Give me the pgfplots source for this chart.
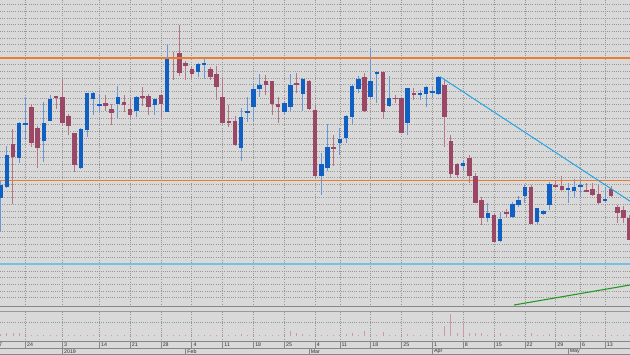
\documentclass[border=0pt]{standalone}
\usepackage{pgfplots}
\pgfplotsset{compat=1.18}
\usepackage{pgfplotstable}
\usepackage{fontspec}
\setmainfont{Liberation Sans}
\definecolor{bg}{RGB}{217,217,217}
\definecolor{upbody}{RGB}{16,96,196}
\definecolor{upwick}{RGB}{105,150,212}
\definecolor{dnbody}{RGB}{155,72,102}
\definecolor{dnwick}{RGB}{182,118,132}
\definecolor{orangeln}{RGB}{235,125,50}
\definecolor{hblue}{RGB}{120,192,226}
\definecolor{trendblue}{RGB}{40,165,225}
\definecolor{greenln}{RGB}{40,150,40}
\definecolor{volc}{RGB}{205,150,170}
\definecolor{gridc}{RGB}{150,150,150}
\definecolor{framec}{RGB}{135,135,135}
\definecolor{labc}{RGB}{50,50,50}

% candle values: i = trading-day index, o/h/l/c = chart level (read downward from top of panel)
\pgfplotstableread{
i o h l c
1 198 180 231 185
2 187 146 188 155
4 158 122 163 123
5 124 97 140 123
8 141 102 162 123
9 121 95 121 99
14 168 128 169 129
15 130 93 137 93
16 99 92 115 93
17 106 94 113 104
20 104 86 118 97
23 111 96 117 97
26 105 99 115 99
28 112 45 112 58
33 72 63 77 64
34 65 57 79 63
40 148 108 161 117
41 113 97 122 111
42 107 83 122 89
43 89 74 97 85
47 112 102 115 103
48 107 74 112 85
50 94 78 111 79
53 176 153 195 164
54 168 124 171 147
56 143 128 155 139
57 138 115 143 116
58 117 85 124 86
59 89 76 93 79
61 97 48 98 81
62 73.5 71 103 72.5
64 106 76 107 98
67 123 88 135 88
69 95 90 100 93
70 94 86 107 87
71 92 87 98 91
72 94 76 95 77
76 166 160 171 163
80 218 203 222 213
82 241 212 242 219
84 217 202 218 204
85 205 196 207 200
86 196 185 203 187
88 222 208 225 208
89 214 210 215 211
90 205 182 210 184
93 189 183 203 188
94 191 179 198 187
95 186.5 179 197 185.5
99 200.5 187 202 199.5
}\up

\pgfplotstableread{
i o h l c
3 144 129 204 157
6 107 104 147 143
7 128 126 168 148
10 96.5 96 109 97.5
11 97 79 126 123
12 116 114 135 126
13 133 133 172 165
18 103 95 111 106
19 109 104 125 113
21 102 95 112 105
22 109 99 118 115
24 96 87 106 97.5
25 96 94 115 107
27 95 94 117 104
29 58 52 80 59
30 53 25 76 73
31 63 61 80 66
32 69 67 78 74
35 69 67 80 77
36 74 66 100 87
37 97 77 123 123
38 121.5 105 127 122.5
39 121 116 146 145
44 81 75 95 85
45 81 81 115 104
46 104 97 123 107
49 83.5 73 93 84.5
51 81 80 110 109
52 110 105 178 176
55 147 135 166 148.5
60 77 73 112 111
63 72 71 119 112
65 98 95 103 99
66 98 97 133 133
68 93 88 100 95
73 85 80 147 117
74 141 135 178 174
75 164 163 178 175
77 158 155 183 176
78 176 173 203 203
79 200 197 225 218
81 215 213 243 242
83 212 209 218 213
87 187 185 224 224
91 185 180 188 186
92 186 176 191 190
96 190 183 192 191
97 189 183 196 195
98 194 185 204 203
100 189 186 197 196
101 207 205 223 213
102 210 206 223 218
103 218 215 240 240
}\down

\pgfplotstableread{
i v
1 2
2 3
3 3.5
4 3
5 1
6 1
7 1.5
8 1
9 1
10 0.7
11 1
12 0.7
13 1
14 1
15 1
16 0.7
17 1
18 0.7
19 1
20 1
21 0.7
22 1
23 1
24 0.7
25 1
26 0.7
27 1
28 1.5
29 1
30 1.5
31 1
32 1
33 1
34 0.7
35 1
36 1.5
37 2
38 1
39 1.5
40 2
41 1
42 1.5
43 1
44 1.5
45 1.5
46 1
47 1
48 5
49 2.7
50 1.7
51 1.5
52 1.5
53 1.5
54 1
55 1.5
56 1
57 2
58 3.3
59 1.5
60 5.3
61 1.3
62 1.5
63 3.7
64 1.3
65 1
66 1
67 2
68 1
69 0.7
70 1
71 1
72 1
73 10
74 22
75 3.3
76 12
77 3.3
78 3.3
79 2.7
80 1
81 2
82 3.3
83 1.5
84 1.5
85 1
86 1.5
87 2.7
88 1
89 1.5
90 2
91 1
92 1
93 1
94 0.7
95 1
96 1
97 1
98 1.5
99 2
100 1.5
101 1
102 1
103 1
}\vol

\pgfplotsset{
  chartx/.style={scale only axis, width=630bp, xmin=0.892, xmax=103.05,
    xtick={5,11,17,22,27,32,37,42,47,52,56,61,66,71,76,81,86,91,95,99},
    xticklabels={}, yticklabels={}, major tick length=0pt,
    axis line style={draw=none},
    grid=major, major grid style={draw=gridc, line width=0.7bp, dash pattern=on 0.8bp off 1.4bp}},
  wick/.style={draw=none, mark=none, forget plot, error bars/.cd, y dir=both, y explicit, error mark=none,
    error bar style={line width=1bp, draw=#1}},
  body/.style={draw=none, mark=none, forget plot, error bars/.cd, y dir=both, y explicit, error mark=none,
    error bar style={line width=4.6bp, draw=#1}},
}
\newcommand\daylab[2]{\node[anchor=west, inner sep=0pt, xshift=1.6bp, text=labc, font=\fontsize{5.3}{6}\selectfont] at (axis cs:#1,10) {#2};}
\newcommand\monlab[2]{\node[anchor=west, inner sep=0pt, xshift=1.6bp, text=labc, font=\fontsize{5.3}{6}\selectfont] at (axis cs:#1,3.4) {#2};}

\begin{document}
\begin{tikzpicture}
\useasboundingbox (0bp,0bp) rectangle (630bp,355bp);
\clip (0bp,0bp) rectangle (630bp,355bp);
\fill[bg] (0bp,0bp) rectangle (630bp,355bp);

% main price panel
\begin{axis}[chartx, at={(0bp,49bp)}, anchor=south west, height=306bp,
  ymin=0, ymax=306, y dir=reverse,
  ytick={4.7,11.4,18,24.7,31.3,38,44.7,51.3,64.6,71.3,78,84.6,91.3,97.9,104.6,111.2,117.9,124.6,131.2,137.9,144.5,151.2,157.8,164.5,171.1,177.8,184.4,191.1,197.8,204.4,211.1,217.7,224.4,231,237.7,244.3,251,257.7,264.3,271,277.6,284.3,290.9,297.6},
  clip=true]
\addplot[wick=upwick] table[x=i, y expr={(\thisrow{h}+\thisrow{l})/2}, y error expr={(\thisrow{l}-\thisrow{h})/2}] {\up};
\addplot[wick=dnwick] table[x=i, y expr={(\thisrow{h}+\thisrow{l})/2}, y error expr={(\thisrow{l}-\thisrow{h})/2}] {\down};
\addplot[color=orangeln, line width=1.4bp, mark=none, forget plot] coordinates {(0,180.3) (104,180.3)};
\addplot[color=hblue, line width=1.8bp, mark=none, forget plot] coordinates {(0,264) (104,264)};
\addplot[body=upbody] table[x=i, y expr={(\thisrow{o}+\thisrow{c})/2}, y error expr={max(abs(\thisrow{c}-\thisrow{o})/2,0.6)}] {\up};
\addplot[body=dnbody] table[x=i, y expr={(\thisrow{o}+\thisrow{c})/2}, y error expr={max(abs(\thisrow{c}-\thisrow{o})/2,0.6)}] {\down};
\addplot[color=orangeln, line width=1.6bp, mark=none, forget plot] coordinates {(0,58.2) (104,58.2)};
\addplot[color=trendblue, line width=1bp, mark=none, forget plot] coordinates {(72.25,76.7) (104,205)};
\addplot[color=greenln, line width=1.1bp, mark=none, forget plot] coordinates {(84.25,305) (104,284)};
\end{axis}

% volume panel
\begin{axis}[chartx, at={(0bp,13.3bp)}, anchor=south west, height=30.2bp,
  ymin=-5.7, ymax=24.5, ytick={13.3}, clip=true]
\addplot[ycomb, draw=volc, line width=0.9bp, mark=none] table[x=i, y=v] {\vol};
\end{axis}

% date rows
\begin{axis}[scale only axis, width=630bp, height=13.3bp, at={(0bp,0bp)}, anchor=south west,
  xmin=0.892, xmax=103.05, ymin=0, ymax=13.3, hide axis, clip=false]
\pgfplotsinvokeforeach{0,5,11,17,22,27,32,37,42,47,52,56,61,66,71,76,81,86,91,95,99}{
  \draw[framec, line width=0.7bp] (axis cs:#1,6.7) -- (axis cs:#1,13.3);
}
\pgfplotsinvokeforeach{11,31,51,71,93}{
  \draw[framec, line width=0.7bp] (axis cs:#1,0) -- (axis cs:#1,6.7);
}
\daylab{0}{17}\daylab{5}{24}\daylab{11}{3}\daylab{17}{14}\daylab{22}{21}\daylab{27}{28}
\daylab{32}{4}\daylab{37}{11}\daylab{42}{18}\daylab{47}{25}\daylab{52}{4}\daylab{56}{11}
\daylab{61}{18}\daylab{66}{25}\daylab{71}{1}\daylab{76}{8}\daylab{81}{15}\daylab{86}{22}
\daylab{91}{29}\daylab{95}{6}\daylab{99}{13}
\monlab{11}{2019}\monlab{31}{Feb}\monlab{51}{Mar}\monlab{71}{Apr}\monlab{93}{May}
\end{axis}

% panel frames
\draw[framec, line width=0.9bp] (0bp,48.5bp) -- (630bp,48.5bp);
\draw[black!40, line width=0.8bp] (0bp,43.5bp) -- (630bp,43.5bp);
\draw[framec, line width=0.8bp] (0bp,13.3bp) -- (630bp,13.3bp);
\draw[framec, line width=0.7bp] (0bp,6.7bp) -- (630bp,6.7bp);
\draw[framec, line width=0.7bp] (0bp,0.4bp) -- (630bp,0.4bp);
\end{tikzpicture}
\end{document}
